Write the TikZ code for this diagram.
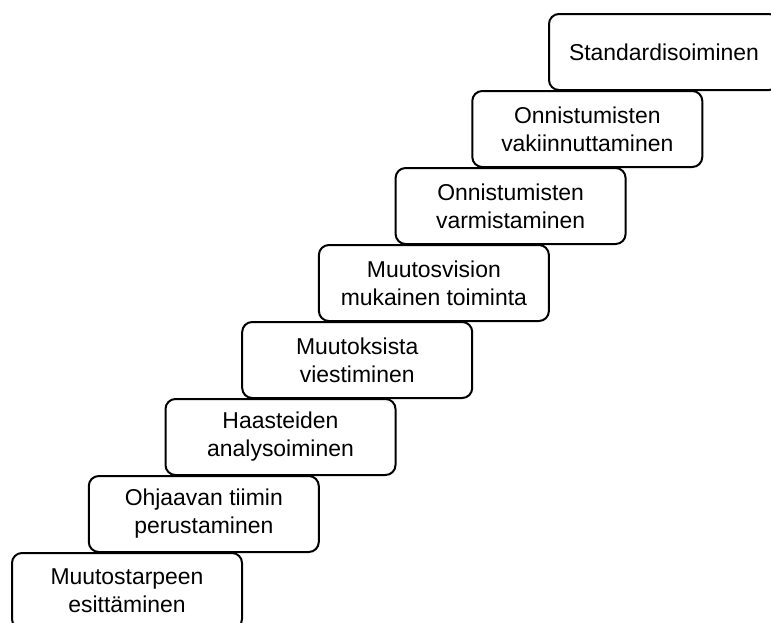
\documentclass[tikz,border=0pt]{standalone}
\usepackage{fontspec}
\setmainfont{Liberation Sans}
\begin{document}
\begin{tikzpicture}[x=0.75pt,y=-0.75pt,
  stepbox/.style={draw=black, fill=white, line width=1.5pt, rounded corners=7.5pt,
    minimum width=172.5pt, minimum height=57pt, align=center, inner sep=0pt,
    font=\fontsize{17.2}{21}\selectfont}]
\useasboundingbox (0,0) rectangle (771,622);
\begin{scope}
\clip (0,0) rectangle (771,622);
\node[stepbox] (s8) at (664,52) {Standardisoiminen};
\node[stepbox] (s7) at (587.3,129) {Onnistumisten\\vakiinnuttaminen};
\node[stepbox] (s6) at (510.6,206) {Onnistumisten\\varmistaminen};
\node[stepbox] (s5) at (433.9,283) {Muutosvision\\mukainen toiminta};
\node[stepbox] (s4) at (357.2,360) {Muutoksista\\viestiminen};
\node[stepbox] (s3) at (280.5,437) {Haasteiden\\analysoiminen};
\node[stepbox] (s2) at (203.8,514) {Ohjaavan tiimin\\perustaminen};
\node[stepbox] (s1) at (127,591) {Muutostarpeen\\esittäminen};
\end{scope}
\end{tikzpicture}
\end{document}
